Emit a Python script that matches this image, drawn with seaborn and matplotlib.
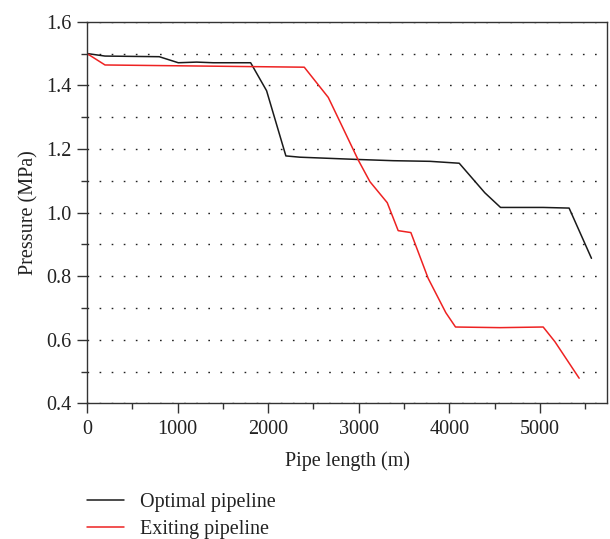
import matplotlib
matplotlib.use("Agg")
import matplotlib.pyplot as plt
from matplotlib.ticker import MultipleLocator
import seaborn as sns
import pandas as pd

opt_x = [0, 199, 798, 1008, 1210, 1394, 1807, 1983, 2196, 2351, 2977, 3381, 3786, 4110, 4393, 4566, 5037, 5323, 5570]
opt_y = [1.500, 1.492, 1.490, 1.471, 1.473, 1.471, 1.471, 1.383, 1.178, 1.174, 1.167, 1.163, 1.161, 1.155, 1.062, 1.016, 1.016, 1.014, 0.856]

exi_x = [0, 199, 2399, 2664, 2792, 2995, 3124, 3315, 3436, 3576, 3767, 3962, 4069, 4560, 5037, 5166, 5434]
exi_y = [1.500, 1.464, 1.457, 1.362, 1.286, 1.165, 1.097, 1.031, 0.943, 0.937, 0.793, 0.685, 0.640, 0.638, 0.640, 0.594, 0.479]

names = ["Optimal pipeline", "Exiting pipeline"]

df = pd.concat([
    pd.DataFrame({"x": opt_x, "y": opt_y, "series": names[0]}),
    pd.DataFrame({"x": exi_x, "y": exi_y, "series": names[1]}),
], ignore_index=True)

sns.set_theme(style="ticks")
plt.rcParams["font.family"] = ["Liberation Serif", "DejaVu Serif"]
FS = 14.5
plt.rcParams["font.size"] = FS

fig = plt.figure(figsize=(6.10, 5.39), dpi=100)
ax = fig.add_axes([0.1426, 0.2517, 0.9956 - 0.1426, 0.9597 - 0.2517])

sns.lineplot(data=df, x="x", y="y", hue="series", palette=["#1a1a1a", "#ee2222"],
             sort=False, estimator=None, linewidth=1.1, ax=ax, legend=True)

ax.set_xlim(0, 5745)
ax.set_ylim(0.4, 1.6)
ax.xaxis.set_major_locator(MultipleLocator(1000))
ax.xaxis.set_minor_locator(MultipleLocator(500))
ax.yaxis.set_major_locator(MultipleLocator(0.2))
ax.yaxis.set_minor_locator(MultipleLocator(0.1))
ax.yaxis.set_major_formatter(plt.FuncFormatter(lambda v, p: f"{v:.1f}"))

ax.tick_params(axis="both", which="major", direction="out", length=7, width=1, color="#333333",
               labelsize=FS, labelcolor="#222222")
ax.tick_params(axis="both", which="minor", direction="out", length=4, width=1, color="#333333")
ax.tick_params(axis="x", pad=5)
ax.tick_params(axis="y", pad=4)

ax.grid(True, axis="y", which="both", linestyle=(0, (1.2, 7.5)), linewidth=1.0, color="#222222")
for s in ax.spines.values():
    s.set_visible(True)
    s.set_color("#333333")
    s.set_linewidth(1.0)

ax.set_xlabel("Pipe length (m)", fontsize=FS, color="#222222", labelpad=9)
ax.set_ylabel("Pressure (MPa)", fontsize=FS, color="#222222", labelpad=6)

handles, labels = ax.get_legend_handles_labels()
ax.legend(handles, labels, loc="upper left", bbox_to_anchor=(0.1426, 0.086), bbox_transform=fig.transFigure,
          frameon=False, fontsize=FS, handlelength=1.85, handletextpad=0.8, labelspacing=0.42,
          borderpad=0, borderaxespad=0, labelcolor="#222222")

fig.savefig("out.png", dpi=100)
